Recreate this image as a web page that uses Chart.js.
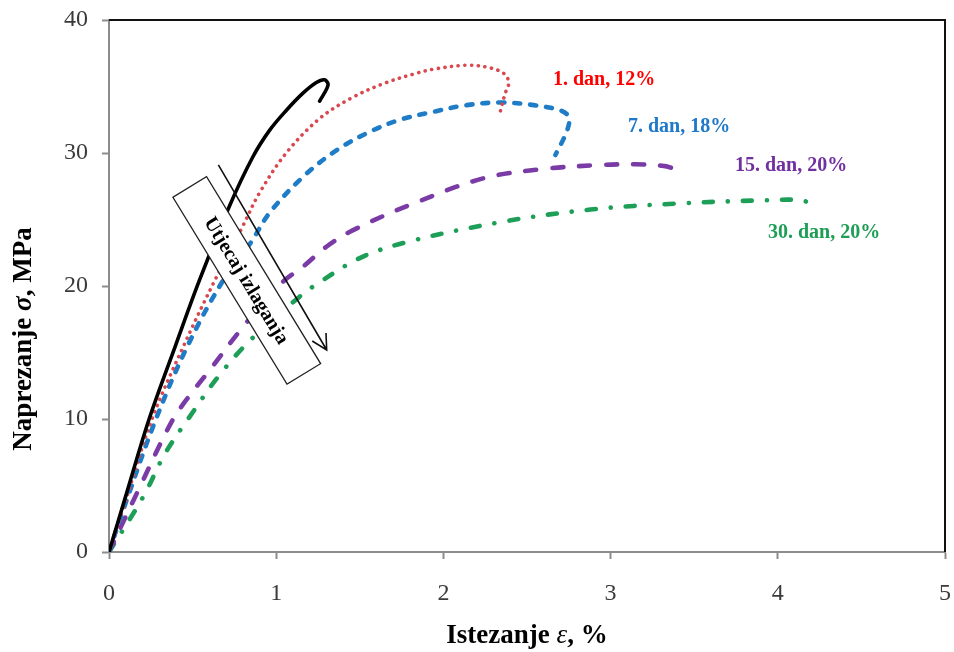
<!DOCTYPE html>
<html>
<head>
<meta charset="utf-8">
<script src="https://cdn.jsdelivr.net/npm/chart.js@4"></script>
<style>
  html, body { margin: 0; padding: 0; background: #fff; }
  #wrap { width: 954px; height: 652px; }
</style>
</head>
<body>
<div id="wrap"><canvas id="c" width="954" height="652"></canvas></div>
<script>
// ---- data ----
const seriesNames = ['0. dan', '1. dan, 12%', '7. dan, 18%', '15. dan, 20%', '30. dan, 20%'];

const strainDay0 = [0, 0.1, 0.24, 0.4, 0.54, 0.72, 0.86, 0.96, 1.06, 1.16, 1.24, 1.29, 1.31, 1.26];
const stressDay0 = [0, 4.2, 10, 15.6, 20.4, 26.0, 29.7, 31.7, 33.2, 34.5, 35.3, 35.5, 35.1, 33.9];

const strainDay1 = [0, 0.1, 0.257, 0.45, 0.634, 0.8, 0.9, 1.06, 1.26, 1.46, 1.66, 1.84, 1.94, 2.14, 2.28, 2.37, 2.39, 2.37, 2.34];
const stressDay1 = [0, 3.9, 10, 15.6, 20.45, 24.5, 27.0, 30.0, 32.6, 34.2, 35.3, 36.0, 36.3, 36.6, 36.4, 35.9, 35.2, 34.5, 33.1];

const strainDay7 = [0, 0.1, 0.281, 0.47, 0.684, 0.85, 0.96, 1.16, 1.36, 1.56, 1.74, 1.94, 2.14, 2.34, 2.54, 2.70, 2.75, 2.74, 2.67];
const stressDay7 = [0, 3.7, 10, 15.5, 20.45, 23.3, 25.5, 28.2, 30.2, 31.6, 32.5, 33.1, 33.6, 33.8, 33.6, 33.2, 32.7, 31.7, 29.85];

const strainDay15 = [0, 0.185, 0.375, 0.484, 0.604, 0.8, 1.03, 1.16, 1.3, 1.46, 1.82, 2.24, 2.6, 2.94, 3.15, 3.3, 3.36, 3.42];
const stressDay15 = [0, 4.9, 9.8, 11.8, 13.7, 16.9, 20.2, 21.45, 22.95, 24.2, 26.2, 28.1, 28.8, 29.1, 29.15, 29.05, 28.9, 28.35];

const strainDay30 = [0, 0.205, 0.335, 0.484, 0.654, 0.843, 1.14, 1.22, 1.5, 1.78, 2.34, 2.88, 3.4, 3.93, 4.14, 4.21];
const stressDay30 = [0, 4.16, 7.4, 10.2, 13.2, 15.9, 19.2, 19.95, 22.1, 23.3, 24.8, 25.75, 26.2, 26.45, 26.45, 26.1];

const xTickValues = [0, 1, 2, 3, 4, 5];
const yTickValues = [0, 10, 20, 30, 40];

const xAxisTitle = ['Istezanje ', 'ε', ', %'];
const yAxisTitle = ['Naprezanje ', 'σ', ', MPa'];
const arrowText = 'Utjecaj izlaganja';

// ---- build datasets ----
function pairs(xs, ys) { return xs.map((v, i) => ({ x: v, y: ys[i] })); }

const styles = [
  { color: '#000000', width: 3.6, dash: [] , cap: 'round'},
  { color: '#D9474F', width: 3.6, dash: [0.1, 6.6], cap: 'round' },
  { color: '#1F7CC6', width: 4.6, dash: [6, 10], cap: 'round' },
  { color: '#7A3BA6', width: 4.6, dash: [11, 16], cap: 'round' },
  { color: '#1E9F58', width: 4.6, dash: [9, 15, 0.1, 15], cap: 'round' }
];
const allStrain = [strainDay0, strainDay1, strainDay7, strainDay15, strainDay30];
const allStress = [stressDay0, stressDay1, stressDay7, stressDay15, stressDay30];

const datasets = seriesNames.map((n, i) => ({
  label: n,
  data: pairs(allStrain[i], allStress[i]),
  showLine: true,
  borderColor: styles[i].color,
  backgroundColor: styles[i].color,
  borderWidth: styles[i].width,
  borderDash: styles[i].dash,
  borderCapStyle: styles[i].cap,
  borderJoinStyle: 'round',
  pointRadius: 0,
  tension: 0.35,
  fill: false
}));

// annotation labels
const seriesLabels = [
  { text: seriesNames[1], color: '#FF0000', x: 2.655, y: 35.5 },
  { text: seriesNames[2], color: '#1F78C8', x: 3.104, y: 32.0 },
  { text: seriesNames[3], color: '#7030A0', x: 3.744, y: 29.0 },
  { text: seriesNames[4], color: '#1E9E55', x: 3.941, y: 24.0 }
];

const SERIF = '"Liberation Serif", "Times New Roman", serif';

function drawMixed(ctx, parts, fonts, cx, cy) {
  let total = 0;
  const widths = parts.map((p, i) => { ctx.font = fonts[i]; const w = ctx.measureText(p).width; total += w; return w; });
  let xx = cx - total / 2;
  ctx.textAlign = 'left';
  ctx.textBaseline = 'middle';
  parts.forEach((p, i) => { ctx.font = fonts[i]; ctx.fillText(p, xx, cy); xx += widths[i]; });
}

const decor = {
  id: 'decor',
  afterDatasetsDraw(chart) {
    const { ctx, chartArea: ca, scales: { x, y } } = chart;
    ctx.save();
    // top & right frame
    ctx.strokeStyle = '#111';
    ctx.lineWidth = 2;
    ctx.beginPath();
    ctx.moveTo(ca.left, ca.top);
    ctx.lineTo(ca.right, ca.top);
    ctx.lineTo(ca.right, ca.bottom);
    ctx.stroke();

    // rotated box with text
    const bx = x.getPixelForValue(0.824), by = y.getPixelForValue(20.42);
    ctx.save();
    ctx.translate(bx, by);
    ctx.rotate(58.6 * Math.PI / 180);
    ctx.fillStyle = '#fff';
    ctx.fillRect(-109.5, -19.7, 219, 39.4);
    ctx.strokeStyle = '#222';
    ctx.lineWidth = 1.3;
    ctx.strokeRect(-109.5, -19.7, 219, 39.4);
    ctx.fillStyle = '#000';
    ctx.font = 'bold 20px ' + SERIF;
    ctx.textAlign = 'center';
    ctx.textBaseline = 'middle';
    ctx.fillText(arrowText, 0, 1);
    ctx.restore();

    // arrow
    const ax0 = x.getPixelForValue(0.654), ay0 = y.getPixelForValue(29.1);
    const ax1 = x.getPixelForValue(1.302), ay1 = y.getPixelForValue(15.19);
    const ang = Math.atan2(ay1 - ay0, ax1 - ax0);
    ctx.strokeStyle = '#111';
    ctx.lineWidth = 1.6;
    ctx.beginPath();
    ctx.moveTo(ax0, ay0); ctx.lineTo(ax1, ay1);
    const hl = 17, ha = 28 * Math.PI / 180;
    ctx.moveTo(ax1 - hl * Math.cos(ang - ha), ay1 - hl * Math.sin(ang - ha));
    ctx.lineTo(ax1, ay1);
    ctx.lineTo(ax1 - hl * Math.cos(ang + ha), ay1 - hl * Math.sin(ang + ha));
    ctx.stroke();

    // series labels
    ctx.font = 'bold 20px ' + SERIF;
    ctx.textAlign = 'left';
    ctx.textBaseline = 'middle';
    seriesLabels.forEach(l => {
      ctx.fillStyle = l.color;
      ctx.fillText(l.text, x.getPixelForValue(l.x), y.getPixelForValue(l.y));
    });

    // axis titles
    ctx.fillStyle = '#000';
    const fx = ['bold 27px ' + SERIF, 'italic 27px ' + SERIF, 'bold 27px ' + SERIF];
    drawMixed(ctx, xAxisTitle, fx, (ca.left + ca.right) / 2, 636);
    ctx.save();
    ctx.translate(24, 339);
    ctx.rotate(-Math.PI / 2);
    const fy = ['bold 27px ' + SERIF, 'bold italic 27px ' + SERIF, 'bold 27px ' + SERIF];
    drawMixed(ctx, yAxisTitle, fy, 0, 0);
    ctx.restore();
    ctx.restore();
  }
};

function zeroPad(s) { s.paddingLeft = 0; s.paddingRight = 0; s.paddingTop = 0; s.paddingBottom = 0; }

new Chart(document.getElementById('c'), {
  type: 'scatter',
  data: { datasets },
  plugins: [decor],
  options: {
    responsive: false,
    animation: false,
    devicePixelRatio: 1,
    layout: { padding: { left: 0, top: 20, right: 9, bottom: 0 } },
    plugins: { legend: { display: false }, tooltip: { enabled: false } },
    scales: {
      x: {
        type: 'linear', min: 0, max: 5,
        afterBuildTicks: s => { s.ticks = xTickValues.map(v => ({ value: v })); },
        afterFit: s => { s.height = 100; zeroPad(s); },
        grid: { drawOnChartArea: false, drawTicks: true, tickLength: 7, tickWidth: 2, color: '#8c8c8c' },
        border: { display: true, color: '#8c8c8c', width: 2 },
        ticks: { color: '#3a3a3a', font: { family: SERIF, size: 24 }, padding: 20, maxRotation: 0, autoSkip: false }
      },
      y: {
        type: 'linear', min: 0, max: 40,
        afterBuildTicks: s => { s.ticks = yTickValues.map(v => ({ value: v })); },
        afterFit: s => { s.width = 109; zeroPad(s); },
        grid: { drawOnChartArea: false, drawTicks: true, tickLength: 7, tickWidth: 2, color: '#8c8c8c' },
        border: { display: true, color: '#8c8c8c', width: 2 },
        ticks: { color: '#3a3a3a', font: { family: SERIF, size: 24 }, padding: 14, autoSkip: false }
      }
    }
  }
});
</script>
</body>
</html>
